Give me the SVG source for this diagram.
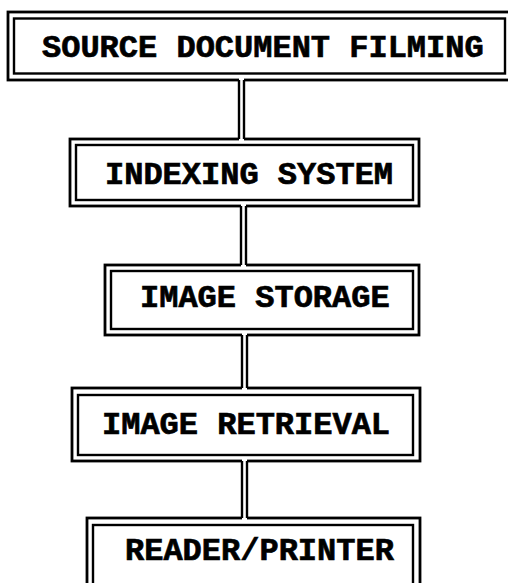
<svg xmlns="http://www.w3.org/2000/svg" width="508" height="583" viewBox="0 0 508 583">
  <style>
    .outer { fill: none; stroke: #000; stroke-width: 2.8; }
    .inner { fill: none; stroke: #000; stroke-width: 2.4; }
    .label { font-family: "Liberation Mono", "Courier New", monospace; font-weight: bold; font-size: 32px; fill: #000; stroke: #000; stroke-width: 0.7; }
    .pipe { stroke: #000; stroke-width: 2.4; fill: none; }
    .gap { fill: #fff; stroke: none; }
  </style>
  <rect width="508" height="583" fill="#fff"/>

  <g id="source-document-filming">
    <rect class="outer" x="8" y="12" width="510" height="68"/>
    <rect class="inner" x="14" y="18.5" width="491" height="55"/>
    <text class="label" x="42" y="57">SOURCE DOCUMENT FILMING</text>
  </g>

  <g id="indexing-system">
    <rect class="outer" x="70" y="139" width="349" height="67"/>
    <rect class="inner" x="76" y="145" width="337" height="55"/>
    <text class="label" x="105" y="184">INDEXING SYSTEM</text>
  </g>

  <g id="image-storage">
    <rect class="outer" x="105" y="265" width="314" height="70"/>
    <rect class="inner" x="111" y="271" width="302" height="58"/>
    <text class="label" x="140" y="307">IMAGE STORAGE</text>
  </g>

  <g id="image-retrieval">
    <rect class="outer" x="72" y="388" width="348" height="73"/>
    <rect class="inner" x="78" y="395" width="335" height="60"/>
    <text class="label" x="102" y="434">IMAGE RETRIEVAL</text>
  </g>

  <g id="reader-printer">
    <rect class="outer" x="87" y="518" width="333" height="80"/>
    <rect class="inner" x="93" y="525" width="320" height="70"/>
    <text class="label" x="125" y="560">READER/PRINTER</text>
  </g>

  <!-- double-line pipes joining the outer borders -->
  <g id="connectors">
    <rect class="gap" x="239" y="78" width="5" height="63"/>
    <line class="pipe" x1="239" y1="80" x2="239" y2="139"/>
    <line class="pipe" x1="244" y1="80" x2="244" y2="139"/>

    <rect class="gap" x="241" y="204" width="5" height="63"/>
    <line class="pipe" x1="241" y1="206" x2="241" y2="265"/>
    <line class="pipe" x1="246" y1="206" x2="246" y2="265"/>

    <rect class="gap" x="242" y="333" width="5" height="57"/>
    <line class="pipe" x1="242" y1="335" x2="242" y2="388"/>
    <line class="pipe" x1="247" y1="335" x2="247" y2="388"/>

    <rect class="gap" x="242" y="459" width="5" height="61"/>
    <line class="pipe" x1="242" y1="461" x2="242" y2="518"/>
    <line class="pipe" x1="247" y1="461" x2="247" y2="518"/>
  </g>
</svg>
